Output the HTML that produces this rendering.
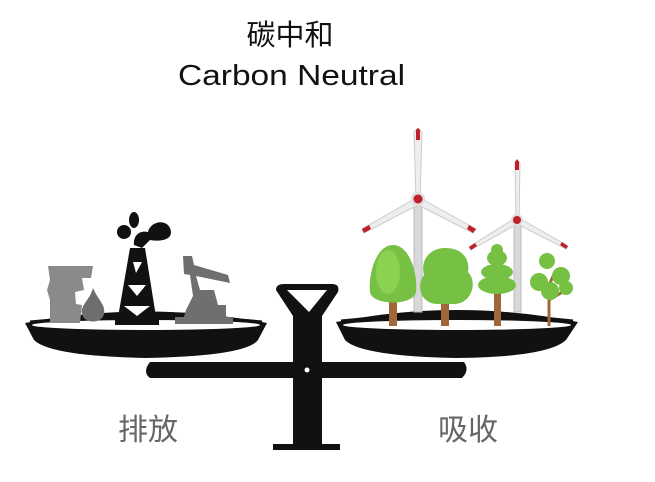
<!DOCTYPE html>
<html><head><meta charset="utf-8"><style>
html,body{margin:0;padding:0;background:#fff;width:655px;height:482px;overflow:hidden}
</style></head><body>
<svg width="655" height="482" viewBox="0 0 655 482" xmlns="http://www.w3.org/2000/svg">
<rect width="655" height="482" fill="#fff"/>
<text x="290" y="45" font-family="Liberation Sans, Noto Sans CJK SC, sans-serif" font-size="29" text-anchor="middle" fill="#111">碳中和</text>
<text x="178" y="85" font-family="Liberation Sans, sans-serif" font-size="29" textLength="227" lengthAdjust="spacingAndGlyphs" fill="#111">Carbon Neutral</text>

<!-- central post -->
<path d="M276 290 Q276 284 284 284 L332 284 Q340 284 338 292 L322 316 L322 444 L340 444 L340 450 L273 450 L273 444 L293 444 L293 316 Z" fill="#111"/>
<path d="M287 290 L327 290 L309 312 Z" fill="#fff"/>
<!-- beam -->
<path d="M150 362 L464 362 Q470 370 462 378 L150 378 Q142 372 150 362Z" fill="#111"/>
<circle cx="307" cy="370" r="2.5" fill="#fff"/>
<!-- left pan -->
<path d="M25 323 Q146 300 267 323 L258 340 Q246 356 146 358 Q50 356 34 340Z" fill="#111"/>
<ellipse cx="146" cy="325" rx="114" ry="5" fill="#fff"/>
<path d="M30 322 Q146 310 262 322" stroke="#111" stroke-width="3" fill="none"/>
<!-- right pan -->
<path d="M336 322 Q457 298 578 322 L566 340 Q548 357 457 358 Q360 356 345 340Z" fill="#111"/>
<ellipse cx="457" cy="325" rx="114" ry="5" fill="#fff"/>
<path d="M341 321 Q457 309 573 321" stroke="#111" stroke-width="3" fill="none"/>

<!-- wind turbines -->
<g>
<rect x="414" y="200" width="8" height="112" fill="#d8d8d8" stroke="#bbb" stroke-width="1"/>
<path d="M416 200 L414 132 L418 128 L422 132 L420 200Z" fill="#eee" stroke="#ccc"/>
<path d="M416 198 L362 229 L364 233 L420 204Z" fill="#eee" stroke="#ccc"/>
<path d="M420 198 L476 229 L473 233 L416 204Z" fill="#eee" stroke="#ccc"/>
<path d="M416 130 L418 128 L420 130 L420 140 L416 140Z" fill="#c0202a"/>
<path d="M362 229 L369 225 L371 229 L364 233Z" fill="#c0202a"/>
<path d="M476 229 L469 225 L467 229 L473 233Z" fill="#c0202a"/>
<circle cx="418" cy="199" r="7" fill="#ddd"/><circle cx="418" cy="199" r="4.5" fill="#c0202a"/>

<rect x="514" y="220" width="7" height="92" fill="#d8d8d8" stroke="#bbb"/>
<path d="M516 220 L515 163 L517 160 L520 163 L519 220Z" fill="#eee" stroke="#ccc"/>
<path d="M515 218 L469 247 L471 250 L519 223Z" fill="#eee" stroke="#ccc"/>
<path d="M519 218 L568 246 L566 249 L515 223Z" fill="#eee" stroke="#ccc"/>
<path d="M515 162 L517 159 L519 162 L519 170 L515 170Z" fill="#c0202a"/>
<path d="M469 247 L475 243 L477 246 L471 250Z" fill="#c0202a"/>
<path d="M568 246 L562 242 L560 245 L566 249Z" fill="#c0202a"/>
<circle cx="517" cy="220" r="6" fill="#ddd"/><circle cx="517" cy="220" r="4" fill="#c0202a"/>
</g>

<!-- trees -->
<g>
<rect x="389" y="295" width="8" height="31" fill="#a0673a"/>
<path d="M393 245 C410 245 418 275 416 292 C414 306 372 306 370 292 C368 275 376 245 393 245Z" fill="#76c043"/>
<ellipse cx="388" cy="272" rx="12" ry="22" fill="#8ad24f"/>
<rect x="441" y="295" width="8" height="31" fill="#a0673a"/>
<path d="M445 248 C465 248 470 262 468 272 C478 282 472 305 452 304 L438 304 C420 304 416 285 424 275 C420 260 430 248 445 248Z" fill="#76c043"/>
<rect x="494" y="290" width="7" height="36" fill="#a0673a"/>
<ellipse cx="497" cy="258" rx="10" ry="8" fill="#76c043"/>
<ellipse cx="497" cy="272" rx="16" ry="8" fill="#76c043"/>
<ellipse cx="497" cy="285" rx="19" ry="9" fill="#76c043"/>
<ellipse cx="497" cy="250" rx="6" ry="6" fill="#76c043"/>
<path d="M549 326 L549 285 M549 300 L566 290 M549 290 L540 275 M549 285 L556 270" stroke="#a0673a" stroke-width="3" fill="none"/>
<circle cx="547" cy="261" r="8" fill="#76c043"/>
<circle cx="539" cy="282" r="9" fill="#76c043"/>
<circle cx="561" cy="276" r="9" fill="#76c043"/>
<circle cx="550" cy="291" r="9" fill="#76c043"/>
<circle cx="566" cy="288" r="7" fill="#76c043"/>
</g>

<!-- left objects -->
<g>
<path d="M48 266 L93 266 L91 278 L82 278 L84 290 L75 292 L76 304 L82 305 L80 323 L50 323 L50 300 L47 290 L50 280Z" fill="#8a8a8a"/>
<path d="M93 288 C98 300 106 305 104 314 C102 324 84 324 82 314 C80 305 90 300 93 288Z" fill="#6e6e6e"/>
<path d="M130 248 L145 248 L157 323 L117 323Z" fill="#111"/>
<path d="M133 262 L142 262 L136 273Z M128 285 L146 285 L137 296Z M124 306 L150 306 L137 316Z" fill="#fff"/>
<path d="M134 245 C133 235 140 230 148 232 C150 222 165 218 170 228 C175 240 160 242 150 240 L142 248Z" fill="#111"/>
<circle cx="124" cy="232" r="7" fill="#111"/>
<ellipse cx="134" cy="220" rx="5" ry="8" fill="#111"/>
<rect x="115" y="318" width="44" height="7" fill="#111"/>
<path d="M183 256 L192 256 L194 265 L228 275 L230 283 L196 276 L200 290 L214 290 L218 305 L226 305 L226 320 L183 320 L186 310 L193 296 L190 275 L184 274Z" fill="#6f6f6f"/>
<rect x="175" y="317" width="58" height="7" fill="#6f6f6f"/>
</g>

<text x="148" y="440" font-family="Liberation Sans, Noto Sans CJK SC, sans-serif" font-size="30" text-anchor="middle" fill="#666">排放</text>
<text x="468" y="440" font-family="Liberation Sans, Noto Sans CJK SC, sans-serif" font-size="30" text-anchor="middle" fill="#666">吸收</text>
</svg>
</body></html>
